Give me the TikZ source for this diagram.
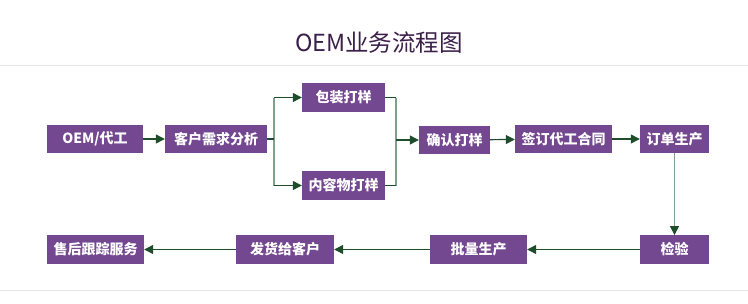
\documentclass[tikz,border=0pt]{standalone}
\usepackage{fontspec}
\setmainfont{Noto Sans CJK SC}
\usetikzlibrary{arrows.meta}
\definecolor{boxpurple}{HTML}{744791}
\definecolor{titlepurple}{HTML}{3B1E4A}
\definecolor{lnk}{HTML}{1E4D2B}
\definecolor{lnkv}{HTML}{7FA08A}
\definecolor{sepgray}{HTML}{E6E6E6}
\begin{document}
\begin{tikzpicture}[x=1pt,y=-1pt,
  flowbox/.style={fill=boxpurple,text=white,inner sep=0pt,minimum height=28.5pt,font=\bfseries\fontsize{14}{15}\selectfont},
  link/.style={draw=lnk,line width=1.2pt},
  vlink/.style={draw=lnkv,line width=1.4pt},
  tip/.style={-{Triangle[length=9pt,width=9pt,color=lnk,fill=lnk]}}]
\useasboundingbox (0,0) rectangle (748,303);
\fill[white] (0,0) rectangle (748,303);
\node[text=titlepurple,font=\fontsize{23.5}{25}\selectfont] (title) at (379,43) {OEM业务流程图};
\coordinate (sepL) at (0,65.5);
\coordinate (sepR) at (748,65.5);
\draw[sepgray,line width=1pt] (sepL) -- (sepR);
\coordinate (sep2L) at (0,290.5);
\coordinate (sep2R) at (748,290.5);
\draw[sepgray,line width=1pt] (sep2L) -- (sep2R);

\node[flowbox,minimum width=96pt] (oem) at (95,139) {OEM/代工};
\node[flowbox,minimum width=102pt] (need) at (216,139) {客户需求分析};
\node[flowbox,minimum width=83pt] (pack) at (343.5,97.5) {包装打样};
\node[flowbox,minimum width=83pt] (cont) at (343.5,185.5) {内容物打样};
\node[flowbox,minimum width=71pt] (conf) at (454.5,140) {确认打样};
\node[flowbox,minimum width=97pt] (sign) at (563.5,139) {签订代工合同};
\node[flowbox,minimum width=69pt] (order) at (674.5,139) {订单生产};
\node[flowbox,minimum width=69pt] (insp) at (674.5,249.5) {检验};
\node[flowbox,minimum width=97pt] (batch) at (478.5,249.5) {批量生产};
\node[flowbox,minimum width=98pt] (ship) at (285,249.5) {发货给客户};
\node[flowbox,minimum width=97pt] (after) at (95.5,249.5) {售后跟踪服务};

\coordinate (fork) at (274,139);
\coordinate (forkT) at (274,97.5);
\coordinate (forkB) at (274,185.5);
\coordinate (join) at (396,140);
\coordinate (joinT) at (396,97.5);
\coordinate (joinB) at (396,185.5);

\draw[link,tip] (oem) -- (need);
\draw[vlink] (forkT) -- (forkB);
\draw[vlink] (joinT) -- (joinB);
\draw[link] (need) -- (fork);
\draw[link,tip] (forkT) -- (pack);
\draw[link,tip] (forkB) -- (cont);
\draw[link] (pack) -- (joinT);
\draw[link] (cont) -- (joinB);
\draw[link,tip] (join) -- (conf);
\draw[link,tip] (conf) -- (sign);
\draw[link,tip] (sign) -- (order);
\draw[vlink,tip] (order) -- (insp);
\draw[link,tip] (insp) -- (batch);
\draw[link,tip] (batch) -- (ship);
\draw[link,tip] (ship) -- (after);
\end{tikzpicture}
\end{document}
